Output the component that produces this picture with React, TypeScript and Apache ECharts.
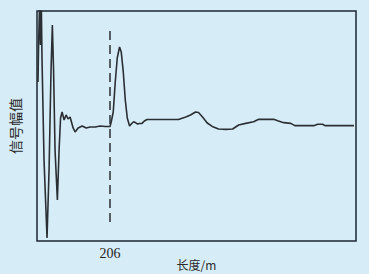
import React, { useEffect, useRef } from "react";
import * as echarts from "echarts";

// length along the line (m)
const lengths = [
  2.8, 4.2, 7.1, 9.9, 12.2, 14.2, 19.8, 28.3, 34.0, 39.6, 43.3, 46.7, 50.9, 57.5, 62.3, 66.5,
  70.8, 76.4, 82.1, 87.7, 93.4, 101.9, 107.5, 116.0, 127.4, 138.7, 150.0, 164.2, 178.3, 192.5, 206.0,
  209.4, 215.1, 220.8, 226.4, 232.9, 237.7, 243.4, 249.1, 254.7, 261.2, 266.0, 272.5, 277.4, 283.9,
  288.7, 296.3, 302.8, 310.5, 348.1, 399.1, 419.8, 433.0, 447.2, 455.7, 467.0, 480.3, 494.4, 512.3,
  532.1, 551.9, 568.9, 588.7, 611.3, 625.5, 667.9, 679.2, 696.2, 716.0, 727.4, 781.1, 791.6, 805.8,
  812.3, 894.3,
];
// signal amplitude (relative)
const amplitudes = [
  0.383, 0.661, 1.05, 0.704, 1.05, 0.574, -0.296, -0.974, -0.383, 0.487, 0.878, 0.487, -0.209, -0.643, -0.209, 0.07,
  0.122, 0.052, 0.096, 0.061, 0.078, -0.017, -0.052, -0.017, 0, -0.017, -0.009, -0.009, 0, -0.004, -0.004,
  0.035, 0.122, 0.383, 0.591, 0.687, 0.643, 0.47, 0.226, 0.07, 0, 0.017, 0.037, 0.03, 0.017,
  0.022, 0.023, 0.043, 0.057, 0.057, 0.057, 0.078, 0.096, 0.122, 0.117, 0.078, 0.026, -0.004, -0.026,
  -0.029, -0.026, 0.009, 0.023, 0.037, 0.058, 0.058, 0.046, 0.029, 0.023, 0.003, 0.003, 0.015, 0.015,
  0.003, 0.003,
];
const markerLength = 206;
const markerSpan = [0.826, -0.835];
const xTickLabels = [206];

export default function App() {
  const ref = useRef<HTMLDivElement>(null);
  useEffect(() => {
    if (!ref.current) return;
    const chart = echarts.init(ref.current, null, { renderer: "svg" });
    const data = lengths.map((x, i) => [x, amplitudes[i]]);
    chart.setOption({
      animation: false,
      backgroundColor: "#d6edf8",
      grid: {
        left: 37,
        right: 13,
        top: 11,
        bottom: 33,
        outerBoundsMode: "none",
        containLabel: false,
        show: true,
        borderColor: "#1c2733",
        borderWidth: 1.5,
        backgroundColor: "transparent",
      },
      xAxis: {
        type: "value",
        min: 0,
        max: 900,
        name: "长度/m",
        nameLocation: "middle",
        nameGap: 17,
        nameMoveOverlap: false,
        nameTextStyle: { fontFamily: "Noto Sans CJK SC", fontSize: 12, color: "#2a2a2a" },
        axisLine: { show: false },
        axisTick: { show: false },
        splitLine: { show: false },
        axisLabel: {
          customValues: xTickLabels,
          margin: 5,
          fontFamily: "Liberation Serif",
          fontSize: 14,
          color: "#1f1f1f",
        },
      },
      yAxis: {
        type: "value",
        min: -1,
        max: 1,
        name: "信号幅值",
        nameLocation: "middle",
        nameGap: 15,
        nameRotate: 90,
        nameTextStyle: { fontFamily: "Noto Sans CJK SC", fontSize: 14, color: "#2a2a2a" },
        axisLine: { show: false },
        axisTick: { show: false },
        axisLabel: { show: false },
        splitLine: { show: false },
      },
      series: [
        {
          type: "line",
          data,
          showSymbol: false,
          symbol: "none",
          clip: true,
          lineStyle: { color: "#2b2f33", width: 1.6 },
          markLine: {
            silent: true,
            symbol: "none",
            label: { show: false },
            lineStyle: { color: "#2b2f33", width: 1.5, type: [9, 5] },
            data: [
              [
                { coord: [markerLength, markerSpan[0]] },
                { coord: [markerLength, markerSpan[1]] },
              ],
            ],
          },
        },
      ],
    });
    return () => chart.dispose();
  }, []);
  return (
    <div
      ref={ref}
      style={{ position: "fixed", left: 0, top: 0, width: 369, height: 274 }}
    />
  );
}
